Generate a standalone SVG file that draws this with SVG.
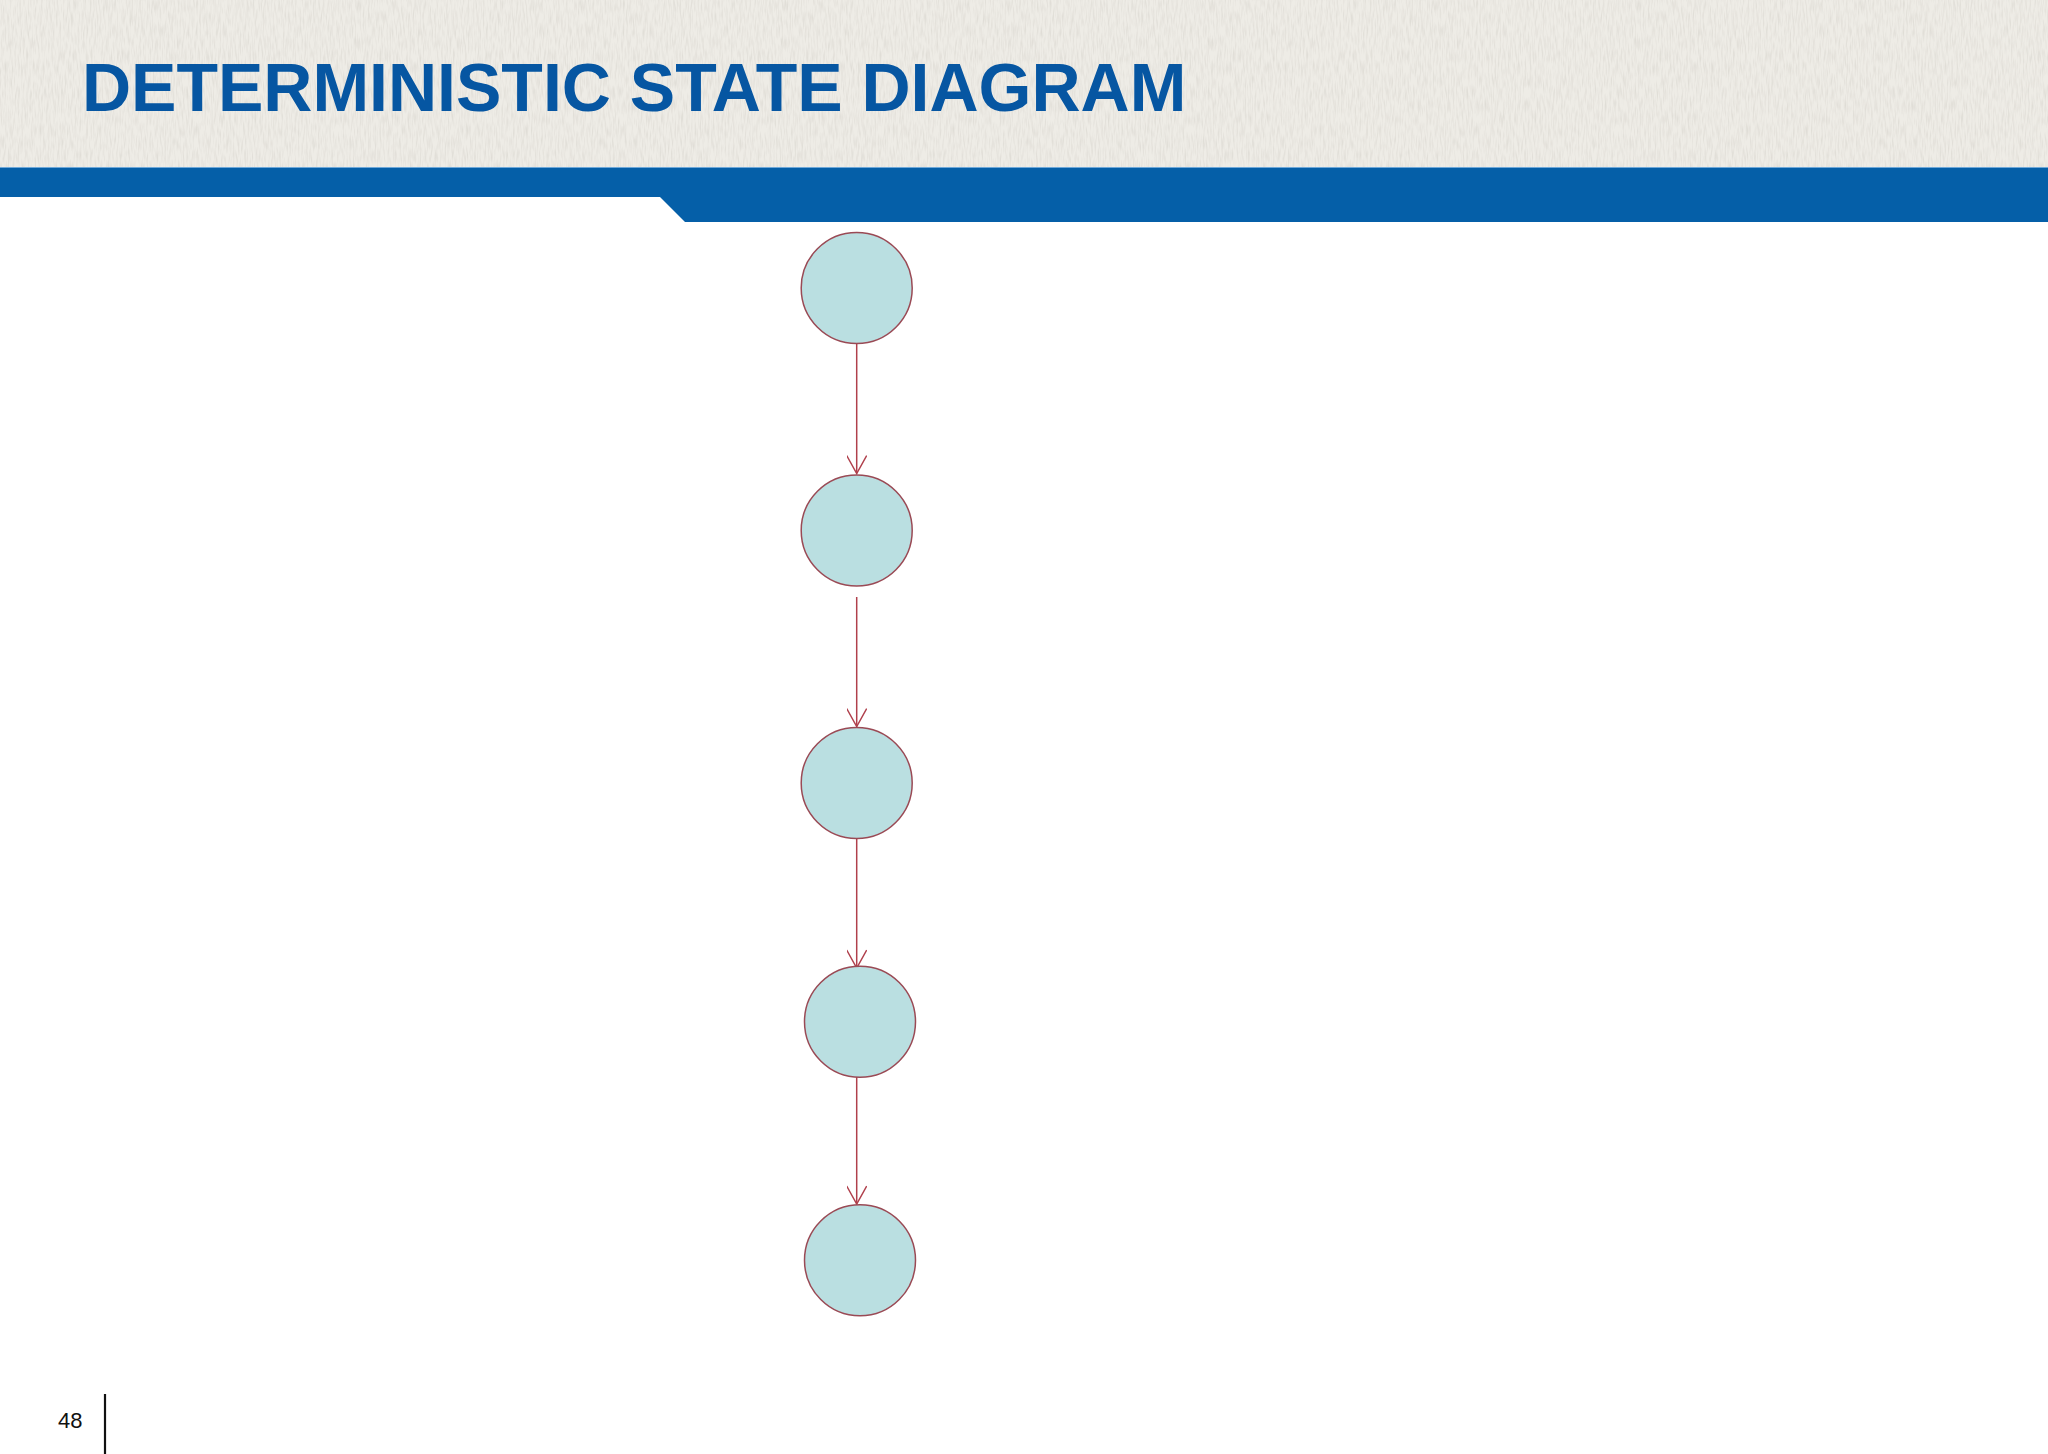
<svg xmlns="http://www.w3.org/2000/svg" width="2048" height="1454" viewBox="0 0 2048 1454">
  <style>
    .state { fill: #BADFE1; stroke: #9A4A55; stroke-width: 1.5; }
    .edge { fill: none; stroke: #B0404C; stroke-width: 1.5; }
    .title { font-family: "Liberation Sans", Arial, sans-serif; font-weight: bold; font-size: 68px; fill: #0656A2; }
    .pnum { font-family: "Liberation Sans", Arial, sans-serif; font-size: 22px; fill: #111111; }
  </style>
  <defs>
    <marker id="arrow" viewBox="0 0 20 20" refX="19" refY="10" markerWidth="20" markerHeight="20" markerUnits="userSpaceOnUse" orient="auto">
      <path d="M1,0 L19,10 L1,20" fill="none" stroke="#B0404C" stroke-width="1.5"/>
    </marker>
    <filter id="tex" x="0" y="0" width="100%" height="100%">
      <feTurbulence type="fractalNoise" baseFrequency="0.6 0.08" numOctaves="2" seed="3" result="n"/>
      <feColorMatrix in="n" type="matrix" values="0 0 0 0 0.55  0 0 0 0 0.53  0 0 0 0 0.48  0 0 0 -1.6 0.95" result="m"/>
      <feComposite in="m" in2="SourceGraphic" operator="in"/>
    </filter>
  </defs>
  <rect x="0" y="0" width="2048" height="1454" fill="#FFFFFF"/>
  <g id="header">
    <rect x="0" y="0" width="2048" height="167" fill="#EEECE6"/>
    <rect x="0" y="0" width="2048" height="167" fill="#EEECE6" filter="url(#tex)" opacity="0.45"/>
    <path d="M0,167 L2048,167 L2048,222 L685,222 L660,197 L0,197 Z" fill="#055FA8"/>
    <line x1="0" y1="167.5" x2="2048" y2="167.5" stroke="#6FA8D8" stroke-width="1"/>
    <text class="title" x="82" y="111">DETERMINISTIC STATE DIAGRAM</text>
  </g>
  <g id="edges">
    <line class="edge" x1="856.7" y1="342" x2="856.7" y2="473.5" marker-end="url(#arrow)"/>
    <line class="edge" x1="856.7" y1="597" x2="856.7" y2="726.5" marker-end="url(#arrow)"/>
    <line class="edge" x1="856.7" y1="839" x2="856.7" y2="968" marker-end="url(#arrow)"/>
    <line class="edge" x1="856.7" y1="1076" x2="856.7" y2="1204" marker-end="url(#arrow)"/>
  </g>
  <g id="s1"><circle class="state" cx="856.7" cy="288" r="55.5"/></g>
  <g id="s2"><circle class="state" cx="856.7" cy="530.5" r="55.5"/></g>
  <g id="s3"><circle class="state" cx="856.7" cy="783" r="55.5"/></g>
  <g id="s4"><circle class="state" cx="860" cy="1021.7" r="55.5"/></g>
  <g id="s5"><circle class="state" cx="860" cy="1260.3" r="55.5"/></g>
  <g id="footer">
    <text class="pnum" x="58" y="1428">48</text>
    <line x1="105" y1="1394" x2="105" y2="1454" stroke="#111111" stroke-width="2.2"/>
  </g>
</svg>
